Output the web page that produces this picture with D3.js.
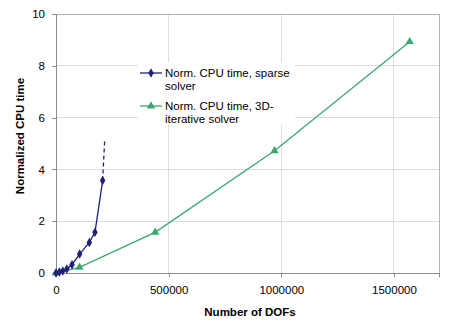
<!DOCTYPE html>
<html>
<head>
<meta charset="utf-8">
<script src="https://cdn.jsdelivr.net/npm/d3@7/dist/d3.min.js"></script>
<style>
  html, body { margin: 0; padding: 0; background: #fff; }
  svg { display: block; font-family: "Liberation Sans", Arial, sans-serif; }
</style>
</head>
<body>
<div id="chart"></div>
<script>
// Sparse direct solver: normalized CPU time vs. number of DOFs
const sparseDofs = [0, 15000, 30000, 48000, 71000, 105000, 148000, 173000, 207000];
const sparseTime = [0, 0.04, 0.08, 0.15, 0.32, 0.73, 1.18, 1.57, 3.57];
// Dashed extrapolation of the sparse solver curve
const sparseTrendDofs = [207000, 216000];
const sparseTrendTime = [3.57, 5.1];
// 3D iterative solver
const iterDofs = [0, 104000, 440000, 970000, 1570000];
const iterTime = [0, 0.22, 1.57, 4.72, 8.93];

const xTicks = [0, 500000, 1000000, 1500000];
const yTicks = [0, 2, 4, 6, 8, 10];
const legendLabels = [
  ["Norm. CPU time, sparse", "solver"],
  ["Norm. CPU time, 3D-", "iterative solver"]
];

const W = 469, H = 333;
const m = { left: 56, right: 30, top: 14, bottom: 60 };
const navy = "#20207a", green = "#3aa870";

const svg = d3.select("#chart").append("svg").attr("width", W).attr("height", H);

const x = d3.scaleLinear().domain([0, 1700000]).range([m.left, W - m.right]);
const y = d3.scaleLinear().domain([0, 10]).range([H - m.bottom, m.top]);

// grid lines
svg.append("g").selectAll("line.gx").data(xTicks.slice(1)).join("line")
  .attr("x1", d => x(d)).attr("x2", d => x(d))
  .attr("y1", y(0)).attr("y2", y(10))
  .attr("stroke", "#dcdcdc").attr("stroke-width", 1).attr("shape-rendering", "crispEdges");
svg.append("g").selectAll("line.gy").data(yTicks.slice(1)).join("line")
  .attr("x1", x(0)).attr("x2", x(1700000))
  .attr("y1", d => y(d)).attr("y2", d => y(d))
  .attr("stroke", "#dcdcdc").attr("stroke-width", 1).attr("shape-rendering", "crispEdges");

// plot-area frame (top and right)
svg.append("path")
  .attr("d", `M${x(0)},${y(10)}H${x(1700000)}V${y(0)}`)
  .attr("fill", "none").attr("stroke", "#b4b4b4").attr("shape-rendering", "crispEdges");

// axes
const fmt = d3.format("d");
const xAxis = svg.append("g").attr("transform", `translate(0,${y(0)})`)
  .call(d3.axisBottom(x).tickValues(xTicks).tickFormat(fmt).tickSizeOuter(0).tickSize(4).tickPadding(9));
const yAxis = svg.append("g").attr("transform", `translate(${x(0)},0)`)
  .call(d3.axisLeft(y).tickValues(yTicks).tickFormat(fmt).tickSizeOuter(0).tickSize(4).tickPadding(7));
[xAxis, yAxis].forEach(g => {
  g.select(".domain").attr("stroke", "#8c8c8c").attr("shape-rendering", "crispEdges");
  g.selectAll(".tick line").attr("stroke", "#8c8c8c").attr("shape-rendering", "crispEdges");
  g.selectAll(".tick text").attr("fill", "#000").style("font-size", "11.5px")
    .style("font-family", "'Liberation Sans', Arial, sans-serif");
});

// axis titles
svg.append("text").attr("x", 250).attr("y", 316).attr("text-anchor", "middle")
  .style("font-size", "11.5px").style("font-weight", "bold").text("Number of DOFs");
svg.append("text").attr("transform", "translate(24,136) rotate(-90)").attr("text-anchor", "middle")
  .style("font-size", "11.5px").style("font-weight", "bold").text("Normalized CPU time");

// legend background (white, covers grid)
svg.append("rect").attr("x", 138).attr("y", 62).attr("width", 157).attr("height", 63).attr("fill", "#fff");

const line = d3.line().x(d => x(d[0])).y(d => y(d[1]));
const diamond = d3.symbol().type(d3.symbolDiamond).size(26);
const triangle = d3.symbol().type(d3.symbolTriangle).size(30);

// iterative solver series
const iterPts = d3.zip(iterDofs, iterTime);
svg.append("path").datum(iterPts).attr("d", line)
  .attr("fill", "none").attr("stroke", green).attr("stroke-width", 1.3);
svg.append("g").selectAll("path").data(iterPts).join("path")
  .attr("d", triangle).attr("fill", green)
  .attr("transform", d => `translate(${x(d[0])},${y(d[1])})`);

// sparse solver series
const sparsePts = d3.zip(sparseDofs, sparseTime);
svg.append("path").datum(d3.zip(sparseTrendDofs, sparseTrendTime)).attr("d", line)
  .attr("fill", "none").attr("stroke", navy).attr("stroke-width", 1.3).attr("stroke-dasharray", "4,3");
svg.append("path").datum(sparsePts).attr("d", line)
  .attr("fill", "none").attr("stroke", navy).attr("stroke-width", 1.3);
svg.append("g").selectAll("path").data(sparsePts).join("path")
  .attr("d", diamond).attr("fill", navy)
  .attr("transform", d => `translate(${x(d[0])},${y(d[1])})`);

// legend
const legendRows = [
  { color: navy, sym: diamond, y: 73 },
  { color: green, sym: triangle, y: 106 }
];
legendRows.forEach((r, i) => {
  const g = svg.append("g");
  g.append("line").attr("x1", 140).attr("x2", 162).attr("y1", r.y).attr("y2", r.y)
    .attr("stroke", r.color).attr("stroke-width", 1.3);
  g.append("path").attr("d", r.sym).attr("fill", r.color).attr("transform", `translate(151,${r.y})`);
  const t = g.append("text").attr("x", 165).attr("y", r.y + 4).style("font-size", "11.5px");
  t.append("tspan").attr("x", 165).text(legendLabels[i][0]);
  t.append("tspan").attr("x", 165).attr("dy", 13).text(legendLabels[i][1]);
});
</script>
</body>
</html>
